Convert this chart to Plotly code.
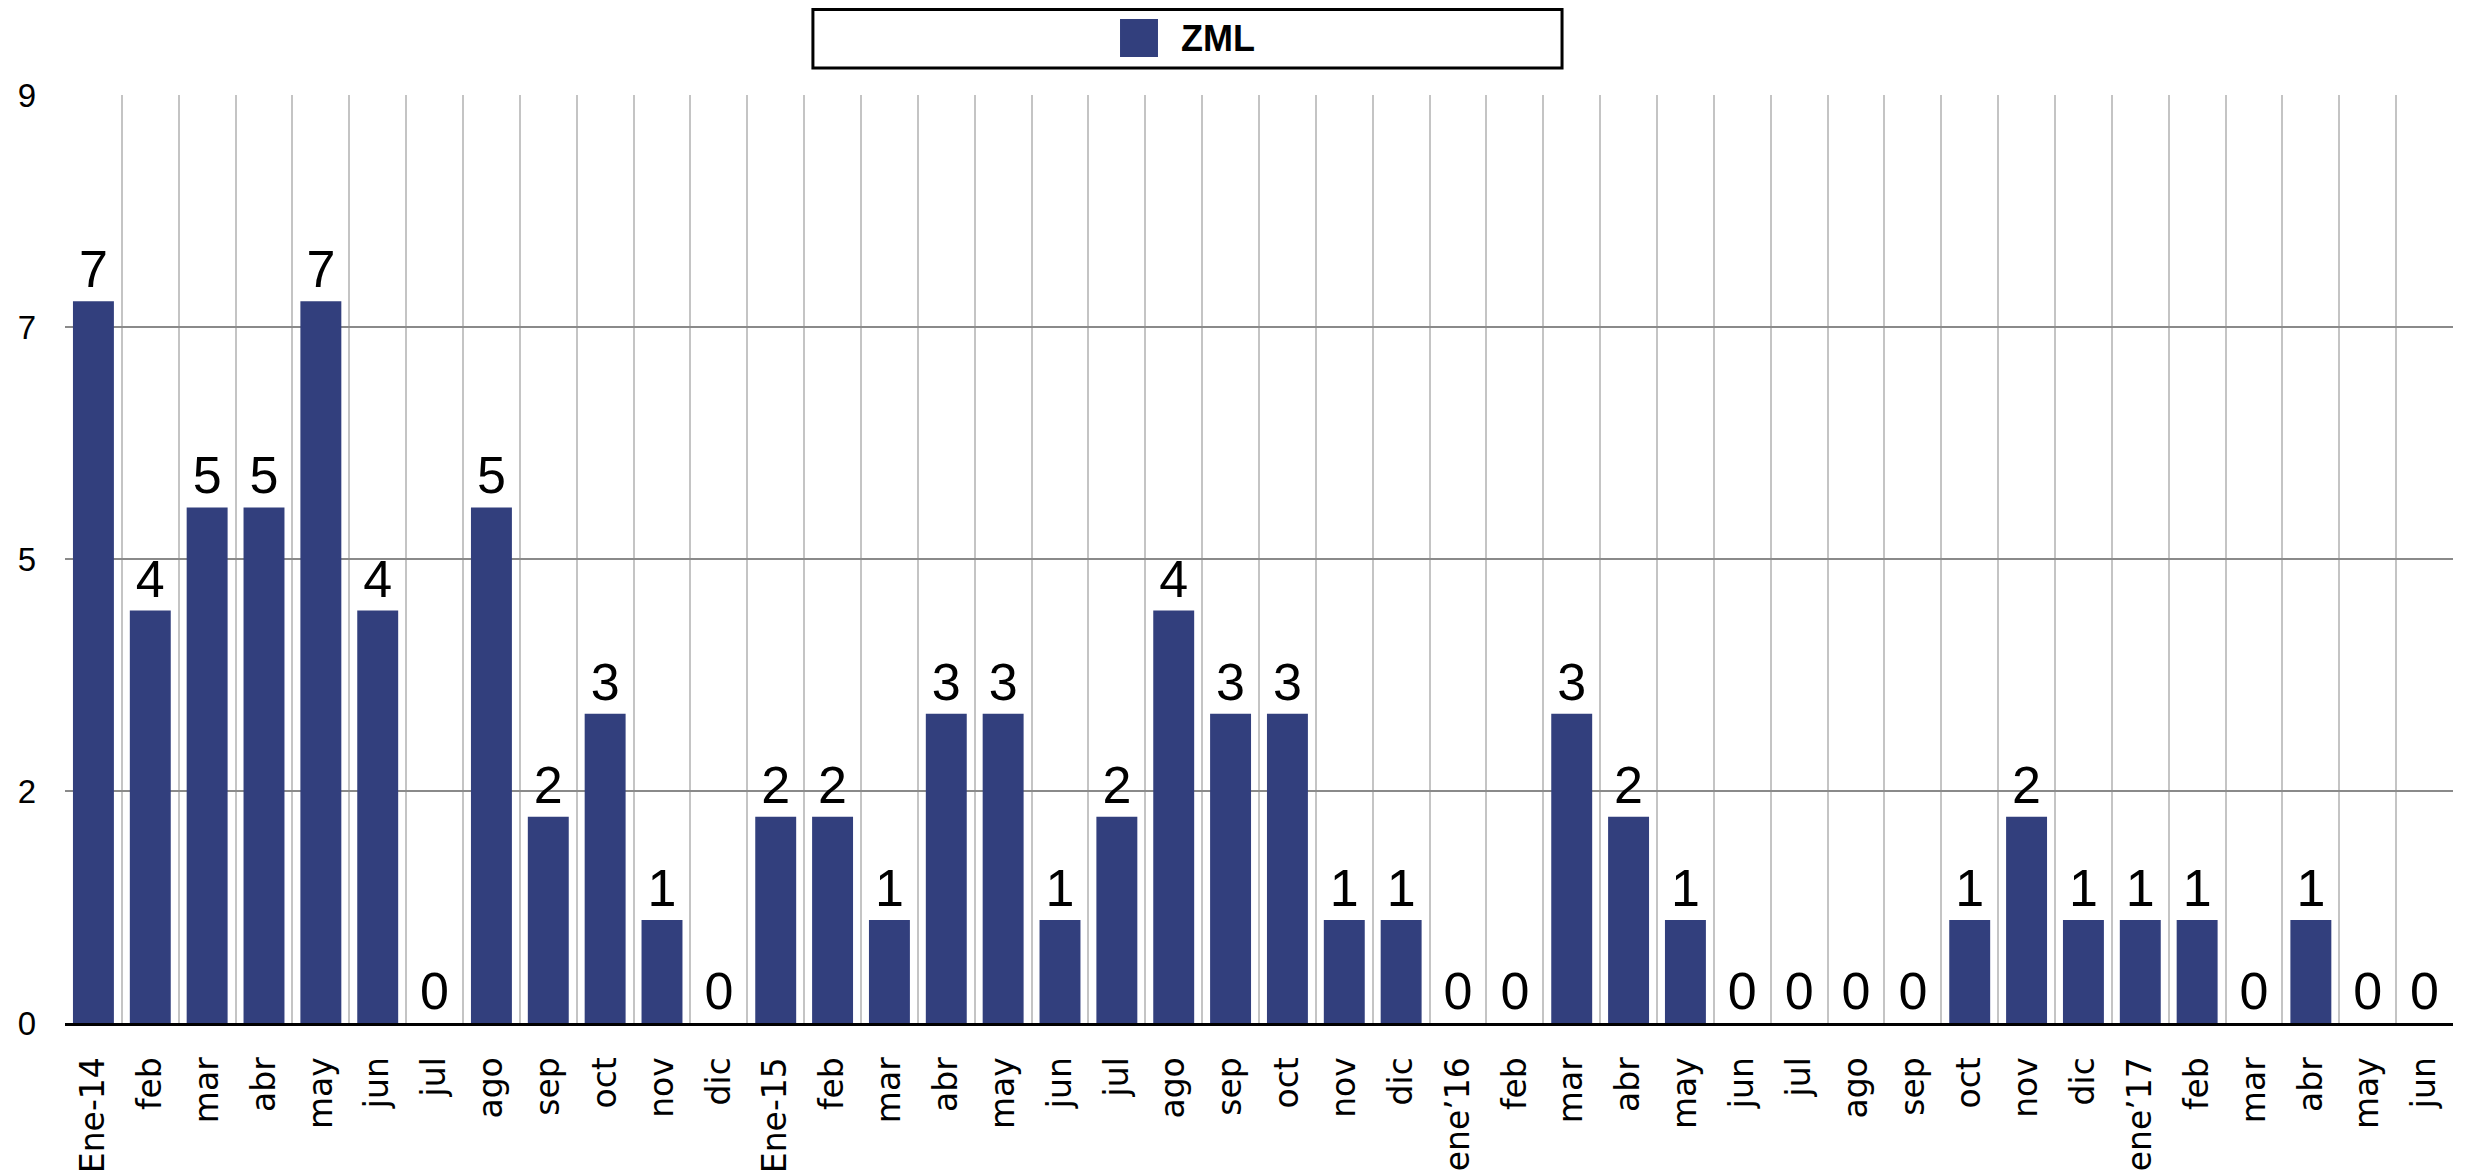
import plotly.graph_objects as go

categories = ["Ene-14", "feb", "mar", "abr", "may", "jun", "jul", "ago", "sep", "oct", "nov", "dic",
              "Ene-15", "feb", "mar", "abr", "may", "jun", "jul", "ago", "sep", "oct", "nov", "dic",
              "ene\u201916", "feb", "mar", "abr", "may", "jun", "jul", "ago", "sep", "oct", "nov", "dic",
              "ene\u201917", "feb", "mar", "abr", "may", "jun"]
zml = [7, 4, 5, 5, 7, 4, 0, 5, 2, 3, 1, 0,
       2, 2, 1, 3, 3, 1, 2, 4, 3, 3, 1, 1,
       0, 0, 3, 2, 1, 0, 0, 0, 0, 1, 2, 1,
       1, 1, 0, 1, 0, 0]
series_name = "ZML"
y_tickvals = [0, 2.25, 4.5, 6.75, 9]
y_ticktext = ["0", "2", "5", "7", "9"]

BAR = "#323F7D"
positions = list(range(len(categories)))

fig = go.Figure()
fig.add_trace(go.Bar(
    x=positions, y=zml, name=series_name,
    marker=dict(color=BAR, line=dict(width=0)),
    width=0.72,
    text=[str(v) for v in zml], textposition="outside",
    textfont=dict(family="Liberation Sans, Arial, sans-serif", size=52, color="black"),
    constraintext="none", cliponaxis=False, showlegend=False,
))

fig.update_layout(
    width=2466, height=1165,
    margin=dict(l=57, r=21, t=87, b=150, autoexpand=False),
    plot_bgcolor="white", paper_bgcolor="white",
    bargap=0.28,
    xaxis=dict(
        range=[-0.5, len(categories) - 0.5], automargin=False,
        tickmode="array", tickvals=positions, ticktext=categories,
        tickangle=-90, showgrid=False, zeroline=False,
        ticks="", ticklabelstandoff=18,
        tickfont=dict(family="DejaVu Sans", size=33, color="black"),
        showline=True, linecolor="black", linewidth=3,
        minor=dict(tick0=-0.5, dtick=1, showgrid=True, gridcolor="#c4c4c4", gridwidth=2, ticks=""),
    ),
    yaxis=dict(
        range=[0, 9], automargin=False,
        tickmode="array", tickvals=y_tickvals, ticktext=y_ticktext,
        showgrid=True, gridcolor="#8a8a8a", gridwidth=2,
        zeroline=False, ticks="", ticklabelstandoff=28,
        tickfont=dict(family="Liberation Sans, Arial, sans-serif", size=33, color="black"),
    ),
    shapes=[
        dict(type="rect", xref="paper", yref="paper", x0=0.3132, x1=0.6269, y0=1.0291, y1=1.0921,
             line=dict(color="black", width=3), fillcolor="white"),
        dict(type="rect", xref="paper", yref="paper", x0=0.4418, x1=0.4577, y0=1.0409, y1=1.0819,
             line=dict(width=0), fillcolor=BAR),
    ],
    annotations=[
        dict(text="<b>" + series_name + "</b>", xref="paper", yref="paper", x=0.4665, y=1.0614,
             xanchor="left", yanchor="middle", showarrow=False,
             font=dict(family="Liberation Sans, Arial, sans-serif", size=36, color="black")),
    ],
)

fig.write_html("out.html")
